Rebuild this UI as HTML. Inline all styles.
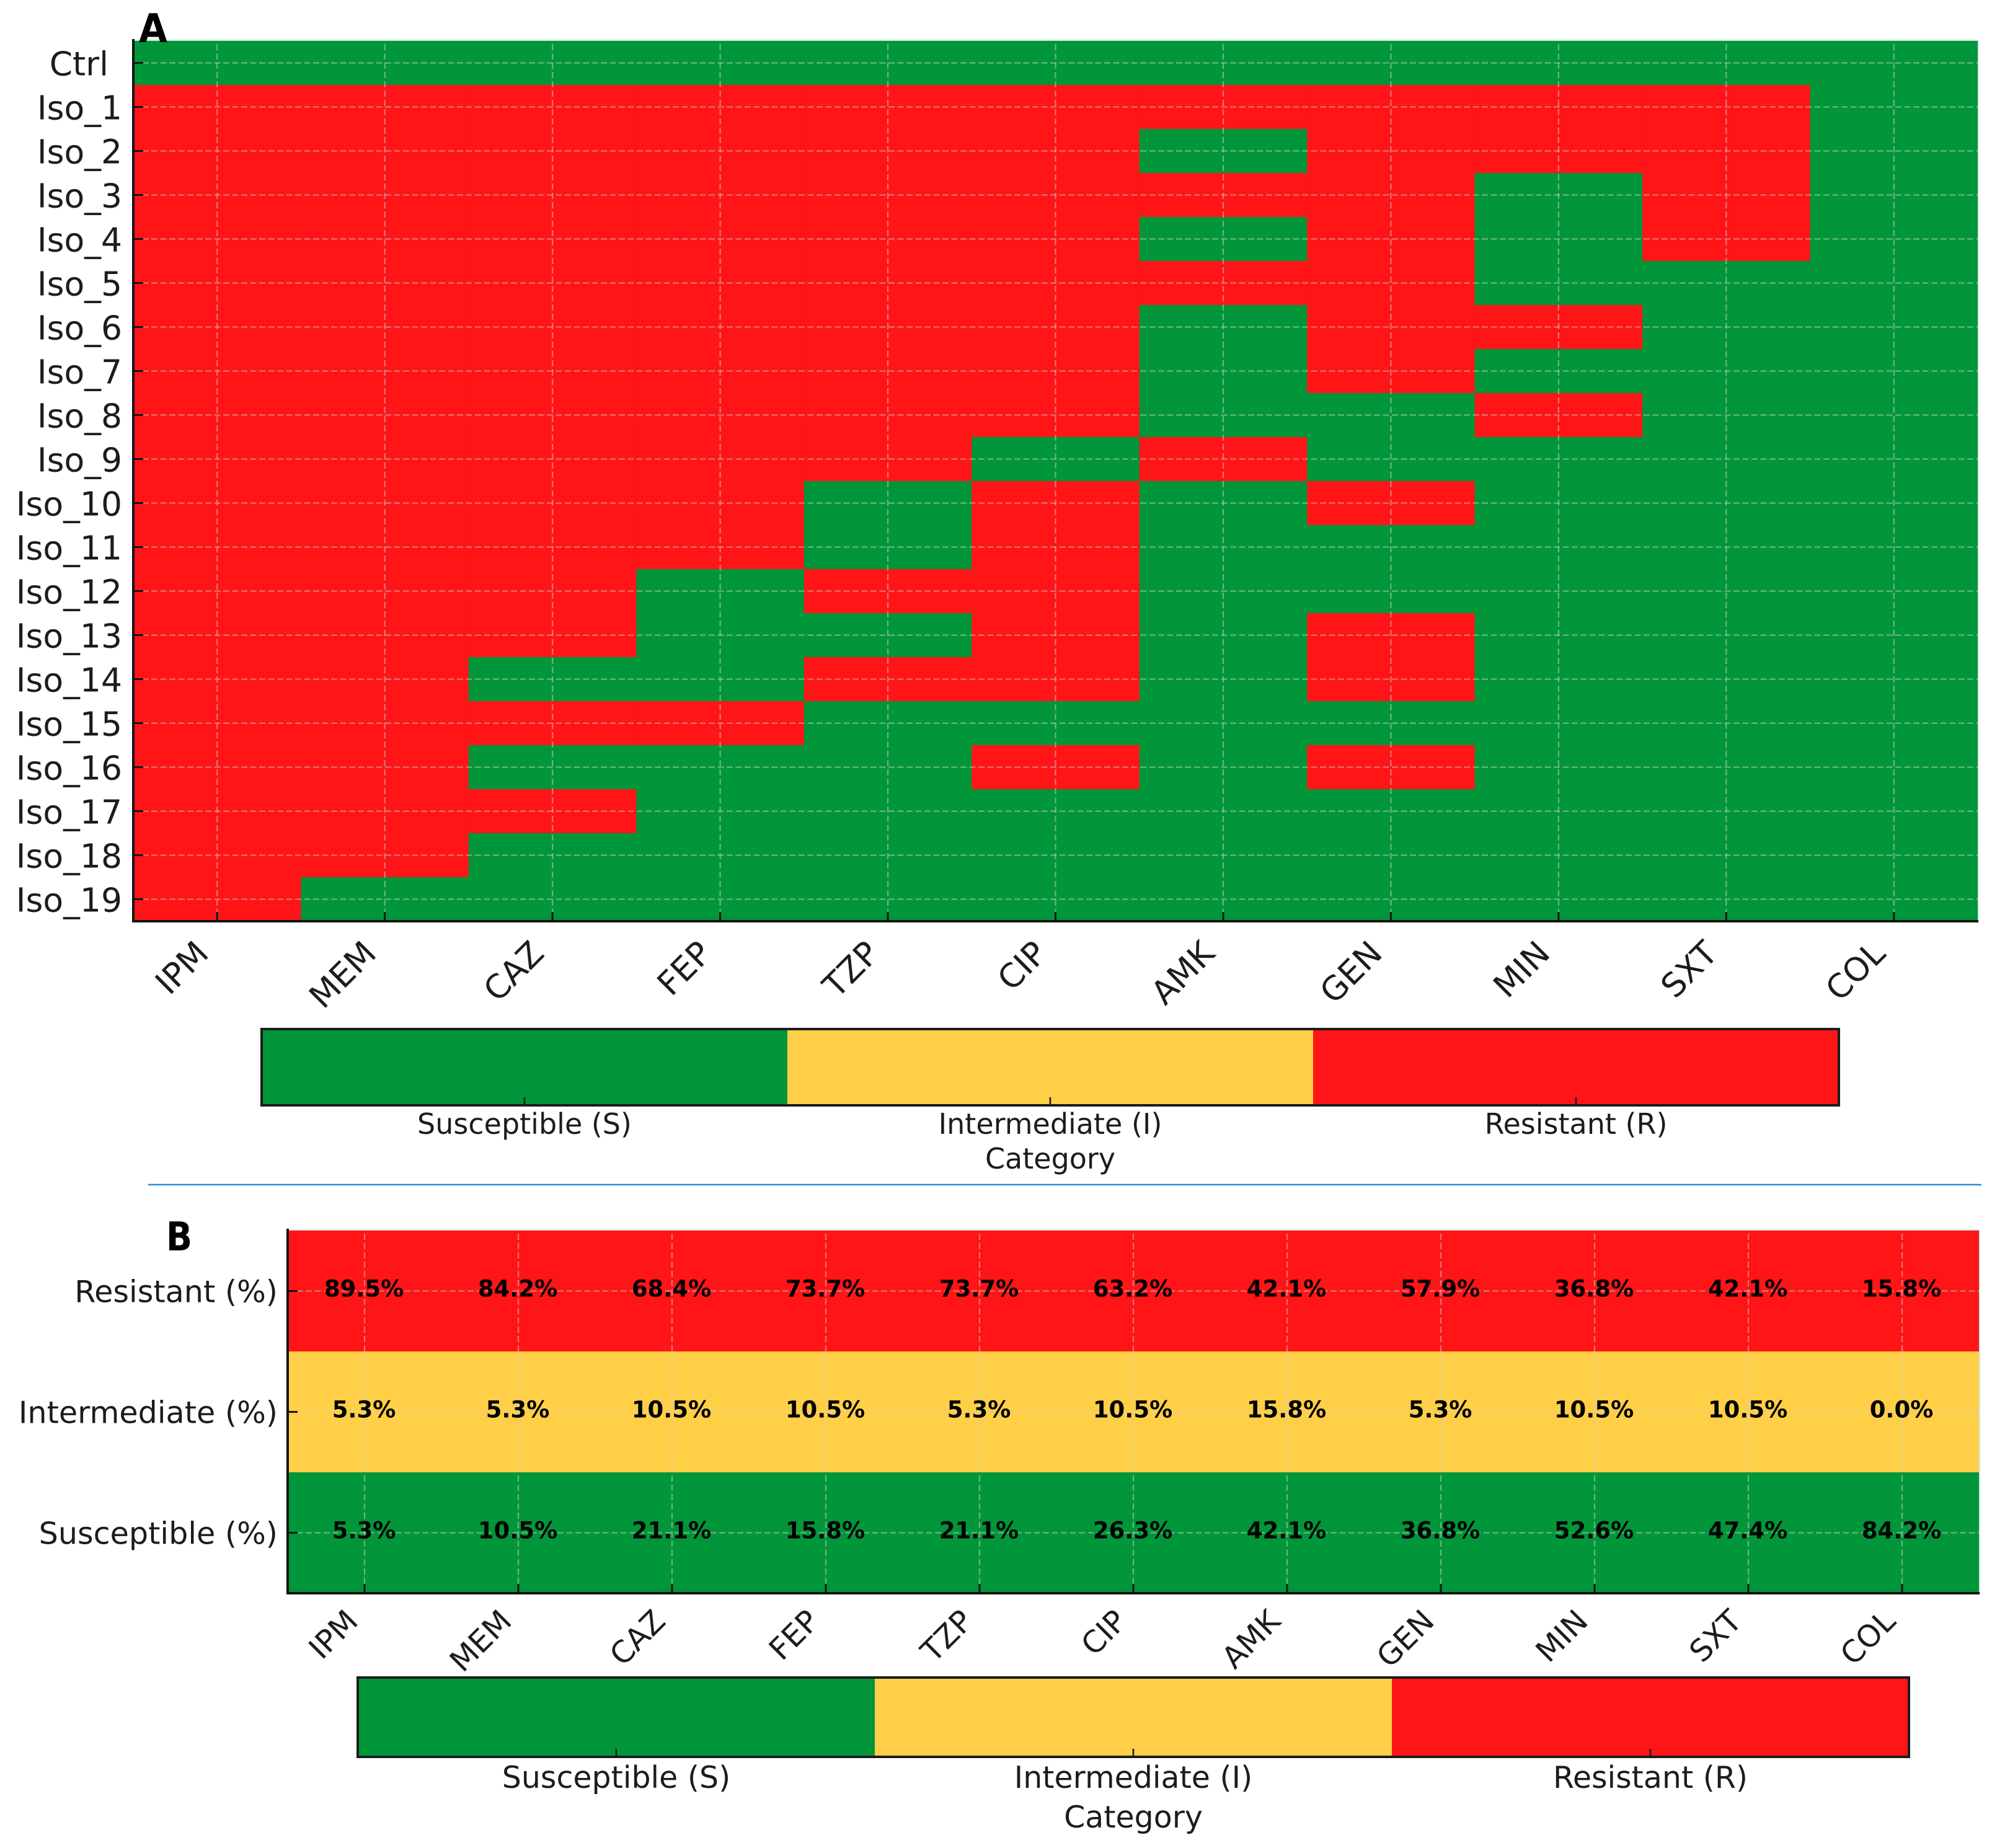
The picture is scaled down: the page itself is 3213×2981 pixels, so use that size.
<!DOCTYPE html>
<html lang="en">
<head>
<meta charset="utf-8">
<title>Antibiotic resistance heatmaps</title>
<style>
html,body{margin:0;padding:0;background:#fff;width:3213px;height:2981px;overflow:hidden}
svg{display:block}
text{font-family:"DejaVu Sans","Liberation Sans",sans-serif;fill:#1c1c1c}
text.strong{fill:#000}
</style>
</head>
<body>
<svg id="figure" xmlns="http://www.w3.org/2000/svg" width="3213" height="2981" viewBox="0 0 3213 2981">
<rect x="0" y="0" width="3213" height="2981" fill="#ffffff"/>
</svg>
<script>
// ---------- data ----------
const antibiotics = ['IPM','MEM','CAZ','FEP','TZP','CIP','AMK','GEN','MIN','SXT','COL'];
const isolates = ['Ctrl','Iso_1','Iso_2','Iso_3','Iso_4','Iso_5','Iso_6','Iso_7','Iso_8','Iso_9','Iso_10','Iso_11','Iso_12','Iso_13','Iso_14','Iso_15','Iso_16','Iso_17','Iso_18','Iso_19'];
const isolateCalls = [
  'SSSSSSSSSSS',
  'RRRRRRRRRRS',
  'RRRRRRSRRRS',
  'RRRRRRRRSRS',
  'RRRRRRSRSRS',
  'RRRRRRRRSSS',
  'RRRRRRSRRSS',
  'RRRRRRSRSSS',
  'RRRRRRSSRSS',
  'RRRRRSRSSSS',
  'RRRRSRSRSSS',
  'RRRRSRSSSSS',
  'RRRSRRSSSSS',
  'RRRSSRSRSSS',
  'RRSSRRSRSSS',
  'RRRRSSSSSSS',
  'RRSSSRSRSSS',
  'RRRSSSSSSSS',
  'RRSSSSSSSSS',
  'RSSSSSSSSSS'
];
const summaryRows = ['Resistant (%)','Intermediate (%)','Susceptible (%)'];
const summaryCodes = ['R','I','S'];
const resistantPct = [89.5,84.2,68.4,73.7,73.7,63.2,42.1,57.9,36.8,42.1,15.8];
const intermediatePct = [5.3,5.3,10.5,10.5,5.3,10.5,15.8,5.3,10.5,10.5,0.0];
const susceptiblePct = [5.3,10.5,21.1,15.8,21.1,26.3,42.1,36.8,52.6,47.4,84.2];
const categoryLabels = ['Susceptible (S)','Intermediate (I)','Resistant (R)'];
const categoryCodes = ['S','I','R'];
const categoryTitle = 'Category';

// ---------- appearance ----------
const palette = {S:'#009639', I:'#FFCF47', R:'#FF1517'};
const NS = 'http://www.w3.org/2000/svg';
const svg = document.getElementById('figure');
function mk(tag, attrs, parent, text){
  const el = document.createElementNS(NS, tag);
  for (const k in attrs) el.setAttribute(k, attrs[k]);
  if (text !== undefined) el.textContent = text;
  (parent || svg).appendChild(el);
  return el;
}
function bandScale(a, b, n){
  const w = (b - a) / n;
  return {step:w, start:i => a + i * w, mid:i => a + (i + .5) * w};
}

// ---------- shared axes painter ----------
function drawGrid(g, x0, x1, y0, y1, xs, ys, xn, yn){
  for (let i = 0; i < xn; i++){
    const line = mk('line',{x1:xs.mid(i),x2:xs.mid(i),y1:y0+5,y2:y1,stroke:'#cfcfcf','stroke-opacity':.5,'stroke-width':2.3,'stroke-dasharray':'10 5'},g);
    
    
  }
  for (let j = 0; j < yn; j++){
    const line = mk('line',{x1:x0,x2:x1,y1:ys.mid(j),y2:ys.mid(j),stroke:'#cfcfcf','stroke-opacity':.5,'stroke-width':2.3,'stroke-dasharray':'10 4.5'},g);
    
    
  }
}
function drawFrame(g, x0, x1, y0, y1, xs, ys, xn, yn){
  const top = mk('line',{x1:x0,x2:x1+2,y1:y0-1,y2:y0-1,stroke:'#cdeee0','stroke-width':2},g);
  
  
  const right = mk('line',{x1:x1+1,x2:x1+1,y1:y0-1,y2:y1,stroke:'#cdeee0','stroke-width':2},g);
  
  
  const left = mk('line',{x1:x0,x2:x0,y1:y0-3,y2:y1+2,stroke:'#141414','stroke-width':4},g);
  
  
  const bottom = mk('line',{x1:x0-2,x2:x1+1,y1:y1,y2:y1,stroke:'#141414','stroke-width':4},g);
  
  
  for (let i = 0; i < xn; i++){
    const t = mk('line',{x1:xs.mid(i),x2:xs.mid(i),y1:y1,y2:y1-15,stroke:'#141414','stroke-width':3},g);
    
    
  }
  for (let j = 0; j < yn; j++){
    const t = mk('line',{x1:x0,x2:x0+16,y1:ys.mid(j),y2:ys.mid(j),stroke:'#141414','stroke-width':3},g);
    
    
  }
}
function drawColorbar(g, left, right, top, bottom, labelY, titleY, fontSize){
  const cs = bandScale(left, right, categoryCodes.length);
  categoryCodes.forEach((code, i) => {
    const seg = mk('rect',{x:cs.start(i),y:top,width:cs.step+.5,height:bottom-top,fill:palette[code]},g);
    
    
  });
  const box = mk('rect',{x:left,y:top,width:right-left,height:bottom-top,fill:'none',stroke:'#1c1c1c','stroke-width':4},g);
  
  
  categoryLabels.forEach((lab, i) => {
    const t = mk('line',{x1:cs.mid(i),x2:cs.mid(i),y1:bottom,y2:bottom-13,stroke:'#1c1c1c','stroke-width':2.6},g);
    
    
    const tx = mk('text',{x:cs.mid(i),y:labelY,'text-anchor':'middle','font-size':fontSize},g,lab);
    
    
  });
  const ti = mk('text',{x:(left+right)/2,y:titleY,'text-anchor':'middle','font-size':fontSize},g,categoryTitle);
  
  
}

// ---------- panel A ----------
(function(){
  const x0 = 215, x1 = 3190, y0 = 66, y1 = 1486;
  const g = mk('g',{});
  
  
  const xs = bandScale(x0, x1, antibiotics.length);
  const ys = bandScale(y0, y1, isolates.length);
  isolates.forEach((iso, r) => {
    antibiotics.forEach((ab, c) => {
      const cell = mk('rect',{x:xs.start(c),y:ys.start(r),width:xs.step+.6,height:ys.step+.6,fill:palette[isolateCalls[r][c]]},g);
      
      
    });
  });
  drawGrid(g, x0, x1, y0, y1, xs, ys, antibiotics.length, isolates.length);
  drawFrame(g, x0, x1, y0, y1, xs, ys, antibiotics.length, isolates.length);
  isolates.forEach((iso, r) => {
    const t = mk('text',{x:r === 0 ? 175 : 197,y:ys.mid(r)+20,'text-anchor':'end','font-size':53.5},g,iso);
    
    
  });
  antibiotics.forEach((ab, c) => {
    const px = xs.mid(c) - 11, py = 1541;
    const t = mk('text',{x:px,y:py,'text-anchor':'end','font-size':53,transform:'rotate(-45 '+px+' '+py+')'},g,ab);
    
    
  });
  drawColorbar(g, 422, 2966, 1660, 1783, 1829, 1885, 46);
  const letter = mk('text',{class:'strong',x:224,y:68,'font-size':64,'font-weight':'bold',textLength:46,lengthAdjust:'spacingAndGlyphs'},g,'A');
  
  
})();

// ---------- separator ----------
const divider = mk('line',{x1:239,x2:3196,y1:1911,y2:1911,stroke:'#2a8bdc','stroke-width':2.4});



// ---------- panel B ----------
(function(){
  const x0 = 464, x1 = 3192, y0 = 1985, y1 = 2570;
  const summaryValues = [resistantPct, intermediatePct, susceptiblePct];
  const g = mk('g',{});
  
  
  const xs = bandScale(x0, x1, antibiotics.length);
  const ys = bandScale(y0, y1, summaryRows.length);
  summaryRows.forEach((row, r) => {
    antibiotics.forEach((ab, c) => {
      const cell = mk('rect',{x:xs.start(c),y:ys.start(r),width:xs.step+.6,height:ys.step+.6,fill:palette[summaryCodes[r]]},g);
      
      
    });
  });
  drawGrid(g, x0, x1, y0, y1, xs, ys, antibiotics.length, summaryRows.length);
  drawFrame(g, x0, x1, y0, y1, xs, ys, antibiotics.length, summaryRows.length);
  summaryRows.forEach((row, r) => {
    const t = mk('text',{x:448,y:ys.mid(r)+18,'text-anchor':'end','font-size':49.2},g,row);
    
    
    antibiotics.forEach((ab, c) => {
      const v = mk('text',{class:'strong',x:xs.mid(c)-1,y:ys.mid(r)+9,'text-anchor':'middle','font-size':37,'font-weight':'bold'},g,summaryValues[r][c].toFixed(1)+'%');
      
      
    });
  });
  antibiotics.forEach((ab, c) => {
    const px = xs.mid(c) - 8, py = 2618;
    const t = mk('text',{x:px,y:py,'text-anchor':'end','font-size':49,transform:'rotate(-45 '+px+' '+py+')'},g,ab);
    
    
  });
  drawColorbar(g, 577, 3079, 2706, 2834, 2884, 2948, 49);
  const letter = mk('text',{class:'strong',x:268,y:2017,'font-size':64,'font-weight':'bold',textLength:42,lengthAdjust:'spacingAndGlyphs'},g,'B');
  
  
})();
</script>
</body>
</html>
